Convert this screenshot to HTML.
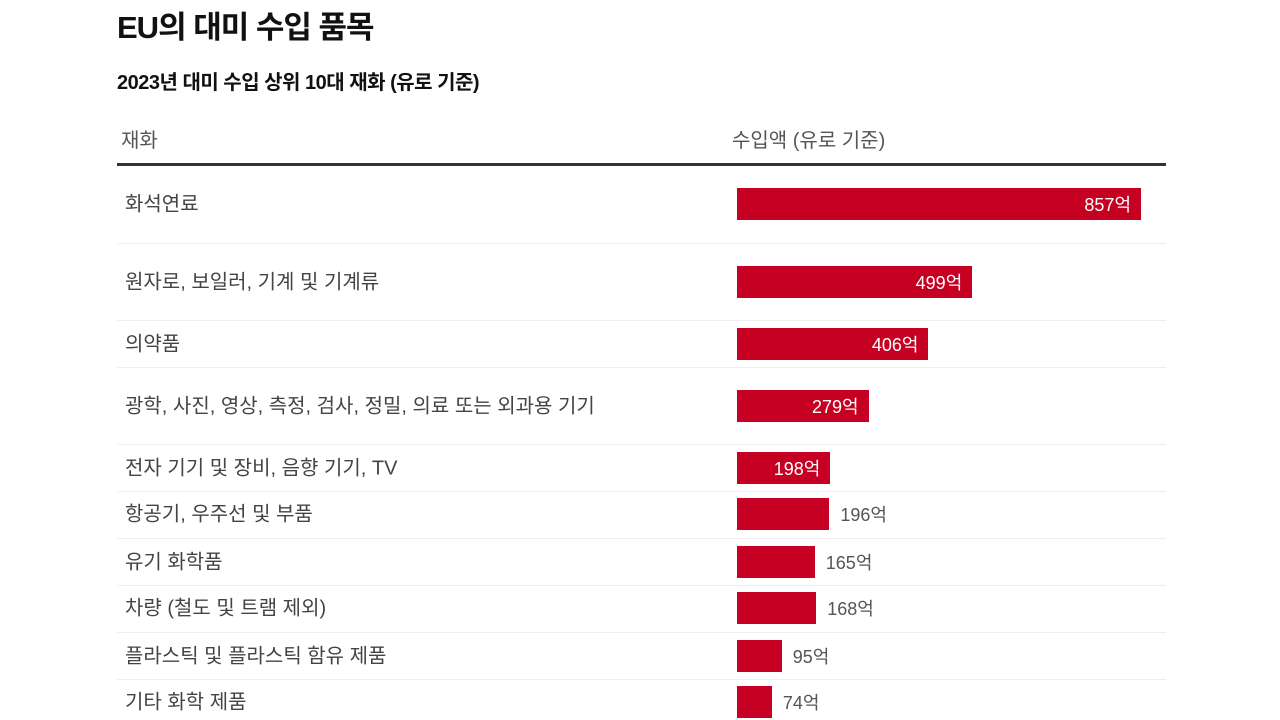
<!DOCTYPE html>
<html><head><meta charset="utf-8">
<style>
body{margin:0;width:1280px;height:720px;background:#fff;overflow:hidden;font-family:"Liberation Sans","Noto Sans CJK KR",sans-serif;position:relative}
.abs{position:absolute}
#title{left:117px;top:2px;font-size:31px;font-weight:bold;color:#111;letter-spacing:-1px}
#sub{left:117px;top:66px;font-size:20px;font-weight:bold;color:#111;letter-spacing:-0.5px}
.hdr{top:124px;font-size:20px;color:#555}
#hline{left:117px;top:163px;width:1049px;height:3px;background:#333}
.sep{left:117px;width:1049px;height:1px;background:#eee}
.lab{left:125px;font-size:20px;color:#444;transform:translateY(-50%);white-space:nowrap}
.bar{background:#c50022;left:737px;height:32px}
.val{font-size:18px;transform:translateY(-50%);white-space:nowrap}
</style></head><body>
<div class="abs" id="title">EU의 대미 수입 품목</div>
<div class="abs" id="sub">2023년 대미 수입 상위 10대 재화 (유로 기준)</div>
<div class="abs hdr" style="left:121px">재화</div>
<div class="abs hdr" style="left:732px">수입액 (유로 기준)</div>
<div class="abs" id="hline"></div>
<div id="rows"></div>
<script>
const categories=["화석연료","원자로, 보일러, 기계 및 기계류","의약품","광학, 사진, 영상, 측정, 검사, 정밀, 의료 또는 외과용 기기","전자 기기 및 장비, 음향 기기, TV","항공기, 우주선 및 부품","유기 화학품","차량 (철도 및 트램 제외)","플라스틱 및 플라스틱 함유 제품","기타 화학 제품"];
const values=[857,499,406,279,198,196,165,168,95,74];
const centers=[204,282,344,406,468,514,562,608,656,702];
const seps=[243,320,367,444,491,538,585,632,679];
const root=document.getElementById('rows');
const x0=737, scale=404/857;
function xw(v){return v*scale;}
seps.forEach(y=>{const d=document.createElement('div');d.className='abs sep';d.style.top=y+'px';

root.appendChild(d);});
categories.forEach((c,i)=>{
 const cy=centers[i];
 const l=document.createElement('div');l.className='abs lab';l.style.top=(cy-2)+'px';l.textContent=c;
 
 root.appendChild(l);
 const w=xw(values[i]);
 const b=document.createElement('div');b.className='abs bar';b.style.top=(cy-16)+'px';b.style.width=w+'px';
 
 root.appendChild(b);
 const t=document.createElement('div');t.className='abs val';t.textContent=values[i]+'억';t.style.top=cy+'px';
 if(values[i]>=198){t.style.color='#fff';t.style.right=(1280-(x0+w)+10)+'px';}
 else{t.style.color='#555';t.style.left=(x0+w+11)+'px';}
 
 root.appendChild(t);
});
</script>
</body></html>
